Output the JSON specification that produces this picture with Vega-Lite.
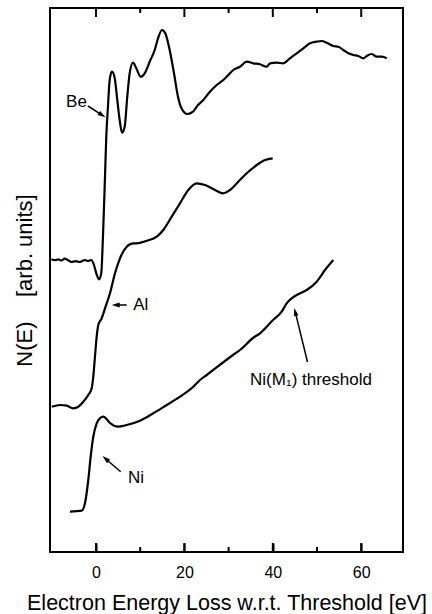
{
  "$schema": "https://vega.github.io/schema/vega-lite/v6.json",
  "autosize": {"type": "none"},
  "padding": {"left": 50, "top": 8, "right": 29, "bottom": 62},
  "width": 353,
  "height": 544,
  "config": {
    "view": {"stroke": "black", "strokeWidth": 2},
    "font": "Liberation Sans",
    "axisY": {"labels": false, "ticks": false, "domain": false, "grid": false,
      "titleFontSize": 22, "titleFont": "Liberation Sans", "titleFontWeight": "normal", "titleColor": "black", "titlePadding": 14},
    "axisX": {"tickColor": "black", "tickWidth": 2, "domain": false, "grid": false}
  },
  "datasets": {
    "curves": [
      {"s":"Be","E":-10.11,"N":292.7},{"s":"Be","E":-9.2,"N":291.8},{"s":"Be","E":-8.6,"N":292.7},{"s":"Be","E":-7.8,"N":291.5},{"s":"Be","E":-7.08,"N":293.3},{"s":"Be","E":-6.3,"N":291.8},{"s":"Be","E":-5.59,"N":290},{"s":"Be","E":-4.6,"N":290.8},{"s":"Be","E":-3.69,"N":290},{"s":"Be","E":-3.0,"N":291.2},{"s":"Be","E":-2.56,"N":292},{"s":"Be","E":-1.8,"N":291},{"s":"Be","E":-1.06,"N":292},{"s":"Be","E":-0.45,"N":287},{"s":"Be","E":0.07,"N":278.7},{"s":"Be","E":0.68,"N":272.7},{"s":"Be","E":1.2,"N":279},{"s":"Be","E":1.58,"N":315.3},{"s":"Be","E":1.97,"N":365.3},{"s":"Be","E":2.33,"N":415.3},{"s":"Be","E":2.71,"N":445.3},{"s":"Be","E":3.1,"N":472},{"s":"Be","E":3.62,"N":480.3},{"s":"Be","E":4.23,"N":474},{"s":"Be","E":4.82,"N":452},{"s":"Be","E":5.36,"N":432},{"s":"Be","E":5.88,"N":419.3},{"s":"Be","E":6.49,"N":425.3},{"s":"Be","E":7.08,"N":455.3},{"s":"Be","E":7.62,"N":478.7},{"s":"Be","E":8.37,"N":489.3},{"s":"Be","E":9.12,"N":483.7},{"s":"Be","E":10.11,"N":475.3},{"s":"Be","E":11.02,"N":478.7},{"s":"Be","E":12.15,"N":490.3},{"s":"Be","E":13.28,"N":502},{"s":"Be","E":14.03,"N":513.7},{"s":"Be","E":14.93,"N":522},{"s":"Be","E":15.68,"N":518.7},{"s":"Be","E":16.67,"N":502},{"s":"Be","E":17.65,"N":478.7},{"s":"Be","E":18.55,"N":455.3},{"s":"Be","E":19.46,"N":442.7},{"s":"Be","E":20.66,"N":438},{"s":"Be","E":21.95,"N":440.3},{"s":"Be","E":23.08,"N":447},{"s":"Be","E":24.28,"N":452},{"s":"Be","E":25.79,"N":460.3},{"s":"Be","E":27.31,"N":467},{"s":"Be","E":28.8,"N":472},{"s":"Be","E":29.93,"N":477},{"s":"Be","E":31.06,"N":482},{"s":"Be","E":32.58,"N":485.3},{"s":"Be","E":34.1,"N":490.3},{"s":"Be","E":35.59,"N":488.7},{"s":"Be","E":37.1,"N":487.7},{"s":"Be","E":38.62,"N":485.3},{"s":"Be","E":39.37,"N":488.7},{"s":"Be","E":40.88,"N":489.3},{"s":"Be","E":42.38,"N":488.7},{"s":"Be","E":43.89,"N":493.7},{"s":"Be","E":45.41,"N":498.7},{"s":"Be","E":46.9,"N":503.7},{"s":"Be","E":48.42,"N":508.7},{"s":"Be","E":49.93,"N":510.3},{"s":"Be","E":51.06,"N":511},{"s":"Be","E":52.19,"N":509.3},{"s":"Be","E":53.69,"N":506},{"s":"Be","E":54.82,"N":505.3},{"s":"Be","E":55.95,"N":502},{"s":"Be","E":57.08,"N":498.7},{"s":"Be","E":58.21,"N":497},{"s":"Be","E":59.34,"N":496},{"s":"Be","E":60.48,"N":493.7},{"s":"Be","E":61.4,"N":496.5},{"s":"Be","E":62.38,"N":498},{"s":"Be","E":63.51,"N":495.3},{"s":"Be","E":64.64,"N":495.3},{"s":"Be","E":65.77,"N":493.7},
      {"s":"Al","E":-10.02,"N":145.3},{"s":"Al","E":-8.14,"N":147},{"s":"Al","E":-6.63,"N":146.3},{"s":"Al","E":-5.14,"N":143.7},{"s":"Al","E":-4.0,"N":145.3},{"s":"Al","E":-2.87,"N":150.3},{"s":"Al","E":-1.74,"N":157},{"s":"Al","E":-0.97,"N":163.7},{"s":"Al","E":-0.61,"N":175.3},{"s":"Al","E":-0.23,"N":195.3},{"s":"Al","E":0.16,"N":215.3},{"s":"Al","E":0.52,"N":227},{"s":"Al","E":1.29,"N":233.7},{"s":"Al","E":2.04,"N":243.7},{"s":"Al","E":3.17,"N":258.7},{"s":"Al","E":4.3,"N":278.7},{"s":"Al","E":5.43,"N":293.7},{"s":"Al","E":6.95,"N":305.3},{"s":"Al","E":8.44,"N":308.7},{"s":"Al","E":9.21,"N":308.7},{"s":"Al","E":11.47,"N":311.3},{"s":"Al","E":13.73,"N":315.3},{"s":"Al","E":15.23,"N":322},{"s":"Al","E":17.13,"N":335.3},{"s":"Al","E":19.0,"N":348.7},{"s":"Al","E":20.88,"N":362},{"s":"Al","E":22.78,"N":368.7},{"s":"Al","E":24.66,"N":367},{"s":"Al","E":26.92,"N":362},{"s":"Al","E":28.8,"N":358.7},{"s":"Al","E":30.32,"N":362},{"s":"Al","E":32.19,"N":370.3},{"s":"Al","E":34.1,"N":378.7},{"s":"Al","E":36.36,"N":387},{"s":"Al","E":38.24,"N":392},{"s":"Al","E":39.98,"N":393.7},
      {"s":"Ni","E":-5.88,"N":40.3},{"s":"Ni","E":-3.24,"N":41.3},{"s":"Ni","E":-2.49,"N":48.7},{"s":"Ni","E":-1.74,"N":72},{"s":"Ni","E":-1.2,"N":95.3},{"s":"Ni","E":-0.61,"N":115.3},{"s":"Ni","E":0.16,"N":128.7},{"s":"Ni","E":0.9,"N":133.7},{"s":"Ni","E":1.65,"N":135.3},{"s":"Ni","E":2.04,"N":134.5},{"s":"Ni","E":3.17,"N":129},{"s":"Ni","E":5.05,"N":125.3},{"s":"Ni","E":6.95,"N":127},{"s":"Ni","E":9.95,"N":131.3},{"s":"Ni","E":12.96,"N":138.7},{"s":"Ni","E":16.0,"N":147},{"s":"Ni","E":19.0,"N":155.3},{"s":"Ni","E":22.01,"N":165.3},{"s":"Ni","E":23.53,"N":172},{"s":"Ni","E":25.05,"N":177},{"s":"Ni","E":31.0,"N":197},{"s":"Ni","E":32.58,"N":202},{"s":"Ni","E":35.52,"N":214},{"s":"Ni","E":37.1,"N":218.7},{"s":"Ni","E":40.05,"N":232},{"s":"Ni","E":42.01,"N":240.3},{"s":"Ni","E":43.14,"N":248.7},{"s":"Ni","E":44.28,"N":253.7},{"s":"Ni","E":45.41,"N":257},{"s":"Ni","E":47.67,"N":262},{"s":"Ni","E":49.93,"N":270.3},{"s":"Ni","E":51.81,"N":282},{"s":"Ni","E":53.69,"N":292}
    ],
    "arrows": [
      {"a":"Be","E":-1.81,"N":446,"E2":1.4,"N2":436.9},
      {"a":"Al","E":6.95,"N":247,"E2":4.46,"N2":247},
      {"a":"Ni","E":5.59,"N":80.3,"E2":2.17,"N2":93.3},
      {"a":"M1","E":47.85,"N":190,"E2":45.07,"N2":240.1}
    ],
    "labels": [
      {"t":"Be","E":-4.41,"N":450.3},
      {"t":"Al","E":10.14,"N":247},
      {"t":"Ni","E":9.05,"N":73.7},
      {"t":"Ni(M₁) threshold","E":48.64,"N":172}
    ],
    "tickpos": [
      {"E":0,"k":"major"},{"E":10,"k":"minor"},{"E":20,"k":"major"},{"E":30,"k":"minor"},
      {"E":40,"k":"major"},{"E":50,"k":"minor"},{"E":60,"k":"major"}
    ]
  },
  "layer": [
    {
      "data": {"name": "curves"},
      "mark": {"type": "line", "color": "black", "strokeWidth": 2.2, "strokeJoin": "round", "interpolate": "monotone"},
      "encoding": {
        "x": {"field": "E", "type": "quantitative",
          "scale": {"domain": [-10.4, 69.45], "nice": false, "zero": false},
          "axis": {"orient": "bottom", "values": [0,20,40,60], "offset": -9, "tickSize": 9,
            "labelFontSize": 16, "labelFont": "Liberation Sans", "labelColor": "black", "labelPadding": 12,
            "labelFlush": false, "labelOverlap": false,
            "title": "Electron Energy Loss w.r.t. Threshold [eV]", "titleFontSize": 21.5,
            "titleFont": "Liberation Sans", "titleFontWeight": "normal", "titleColor": "black", "titlePadding": 12}},
        "y": {"field": "N", "type": "quantitative",
          "scale": {"domain": [0, 544], "nice": false, "zero": false},
          "axis": {"title": "N(E)\u00a0\u00a0\u00a0\u00a0[arb. units]"}},
        "detail": {"field": "s"}
      }
    },
    {
      "data": {"name": "tickpos"},
      "transform": [{"filter": "datum.k === 'major'"}],
      "mark": {"type": "rule", "color": "black", "strokeWidth": 2},
      "encoding": {
        "x": {"field": "E", "type": "quantitative", "axis": null},
        "y": {"datum": 0, "type": "quantitative", "axis": {"title": "N(E)\u00a0\u00a0\u00a0\u00a0[arb. units]"}},
        "y2": {"datum": 9}
      }
    },
    {
      "data": {"name": "tickpos"},
      "transform": [{"filter": "datum.k === 'minor'"}],
      "mark": {"type": "rule", "color": "black", "strokeWidth": 2},
      "encoding": {
        "x": {"field": "E", "type": "quantitative", "axis": null},
        "y": {"datum": 0, "type": "quantitative", "axis": {"title": "N(E)\u00a0\u00a0\u00a0\u00a0[arb. units]"}},
        "y2": {"datum": 5}
      }
    },
    {
      "data": {"name": "tickpos"},
      "transform": [{"filter": "datum.k === 'major'"}],
      "mark": {"type": "rule", "color": "black", "strokeWidth": 2},
      "encoding": {
        "x": {"field": "E", "type": "quantitative", "axis": null},
        "y": {"datum": 544, "type": "quantitative", "axis": {"title": "N(E)\u00a0\u00a0\u00a0\u00a0[arb. units]"}},
        "y2": {"datum": 535}
      }
    },
    {
      "data": {"name": "tickpos"},
      "transform": [{"filter": "datum.k === 'minor'"}],
      "mark": {"type": "rule", "color": "black", "strokeWidth": 2},
      "encoding": {
        "x": {"field": "E", "type": "quantitative", "axis": null},
        "y": {"datum": 544, "type": "quantitative", "axis": {"title": "N(E)\u00a0\u00a0\u00a0\u00a0[arb. units]"}},
        "y2": {"datum": 539}
      }
    },
    {
      "data": {"name": "arrows"},
      "mark": {"type": "rule", "color": "black", "strokeWidth": 1.5},
      "encoding": {
        "x": {"field": "E", "type": "quantitative", "axis": null},
        "y": {"field": "N", "type": "quantitative", "axis": {"title": "N(E)\u00a0\u00a0\u00a0\u00a0[arb. units]"}},
        "x2": {"field": "E2"},
        "y2": {"field": "N2"}
      }
    },
    {
      "data": {"name": "arrows"},
      "transform": [{"filter": "datum.a === 'Be'"}],
      "mark": {"type": "point", "shape": "M0,-1L0.6,1L-0.6,1Z", "filled": true, "color": "black", "opacity": 1, "size": 64, "angle": 123},
      "encoding": {"x": {"field": "E2", "type": "quantitative", "axis": null}, "y": {"field": "N2", "type": "quantitative", "axis": {"title": "N(E)\u00a0\u00a0\u00a0\u00a0[arb. units]"}}}
    },
    {
      "data": {"name": "arrows"},
      "transform": [{"filter": "datum.a === 'Al'"}],
      "mark": {"type": "point", "shape": "M0,-1L0.6,1L-0.6,1Z", "filled": true, "color": "black", "opacity": 1, "size": 64, "angle": 270},
      "encoding": {"x": {"field": "E2", "type": "quantitative", "axis": null}, "y": {"field": "N2", "type": "quantitative", "axis": {"title": "N(E)\u00a0\u00a0\u00a0\u00a0[arb. units]"}}}
    },
    {
      "data": {"name": "arrows"},
      "transform": [{"filter": "datum.a === 'Ni'"}],
      "mark": {"type": "point", "shape": "M0,-1L0.6,1L-0.6,1Z", "filled": true, "color": "black", "opacity": 1, "size": 64, "angle": 311},
      "encoding": {"x": {"field": "E2", "type": "quantitative", "axis": null}, "y": {"field": "N2", "type": "quantitative", "axis": {"title": "N(E)\u00a0\u00a0\u00a0\u00a0[arb. units]"}}}
    },
    {
      "data": {"name": "arrows"},
      "transform": [{"filter": "datum.a === 'M1'"}],
      "mark": {"type": "point", "shape": "M0,-1L0.6,1L-0.6,1Z", "filled": true, "color": "black", "opacity": 1, "size": 64, "angle": 346},
      "encoding": {"x": {"field": "E2", "type": "quantitative", "axis": null}, "y": {"field": "N2", "type": "quantitative", "axis": {"title": "N(E)\u00a0\u00a0\u00a0\u00a0[arb. units]"}}}
    },
    {
      "data": {"name": "labels"},
      "mark": {"type": "text", "font": "Liberation Sans", "fontSize": 17, "color": "black", "align": "center", "baseline": "middle"},
      "encoding": {
        "x": {"field": "E", "type": "quantitative", "axis": null},
        "y": {"field": "N", "type": "quantitative", "axis": {"title": "N(E)\u00a0\u00a0\u00a0\u00a0[arb. units]"}},
        "text": {"field": "t"}
      }
    }
  ],
  "resolve": {"axis": {"x": "independent"}}
}
